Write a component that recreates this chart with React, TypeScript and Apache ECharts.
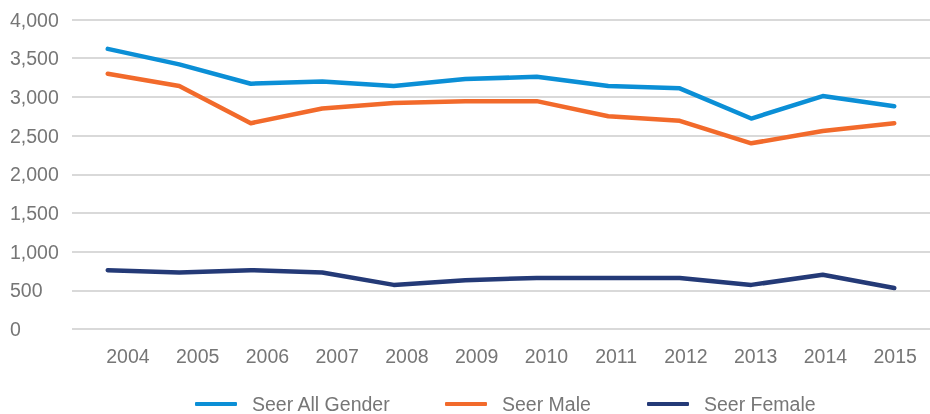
import React, { useEffect, useRef } from "react";
import * as echarts from "echarts";

const years = ["2004", "2005", "2006", "2007", "2008", "2009", "2010", "2011", "2012", "2013", "2014", "2015"];
const allGender = [3620, 3420, 3170, 3200, 3140, 3230, 3260, 3140, 3110, 2720, 3010, 2880];
const male = [3300, 3140, 2660, 2850, 2920, 2945, 2945, 2750, 2690, 2400, 2560, 2660];
const female = [760, 730, 760, 730, 570, 630, 660, 660, 660, 570, 700, 530];
const seriesNames = ["Seer All Gender", "Seer Male", "Seer Female"];
const colors = ["#0b8fd6", "#f26a2b", "#243a77"];

const FONT = "'Liberation Sans', Arial, sans-serif";
const TEXT = "#767676";

export default function App() {
  const ref = useRef<HTMLDivElement>(null);
  useEffect(() => {
    if (!ref.current) return;
    const chart = echarts.init(ref.current, undefined, { renderer: "svg" });
    const values = [allGender, male, female];
    const legendLeft = [195, 445, 647];
    chart.setOption({
      animation: false,
      textStyle: { fontFamily: FONT },
      grid: [
        { left: 72, right: -9, top: 19.5, bottom: 85 },
        { left: 93, right: -12, top: 19.5, bottom: 85 },
      ],
      legend: seriesNames.map((n, i) => ({
        data: [n],
        left: legendLeft[i],
        top: 394,
        padding: 0,
        icon: "roundRect",
        itemWidth: 42,
        itemHeight: 4,
        textStyle: { fontSize: 19.5, color: TEXT, fontFamily: FONT, padding: [0, 0, 0, 10] },
      })),
      xAxis: [
        {
          type: "category",
          data: years,
          gridIndex: 0,
          boundaryGap: true,
          axisLine: { show: false },
          axisTick: { show: false },
          axisLabel: { show: false },
        },
        {
          type: "category",
          data: years,
          gridIndex: 1,
          boundaryGap: true,
          axisLine: { show: false },
          axisTick: { show: false },
          axisLabel: { show: true, fontSize: 19.5, color: TEXT, fontFamily: FONT, margin: 17 },
        },
      ],
      yAxis: [
        {
          type: "value",
          gridIndex: 0,
          min: 0,
          max: 4000,
          interval: 500,
          axisLine: { show: false },
          axisTick: { show: false },
          splitLine: { lineStyle: { color: "#d9d9d9", width: 2 } },
          axisLabel: {
            fontSize: 19.5,
            color: TEXT,
            fontFamily: FONT,
            align: "left",
            margin: 62,
            formatter: (v: number) => v.toLocaleString("en-US"),
          },
        },
        { type: "value", gridIndex: 1, min: 0, max: 4000, show: false },
      ],
      series: seriesNames.map((n, i) => ({
        name: n,
        type: "line",
        xAxisIndex: 0,
        yAxisIndex: 0,
        data: values[i],
        symbol: "none",
        smooth: false,
        lineStyle: { color: colors[i], width: 4.5, cap: "round", join: "round" },
        itemStyle: { color: colors[i] },
      })),
    });
    return () => chart.dispose();
  }, []);
  return <div ref={ref} style={{ position: "fixed", left: 0, top: 0, width: 930, height: 414 }} />;
}
